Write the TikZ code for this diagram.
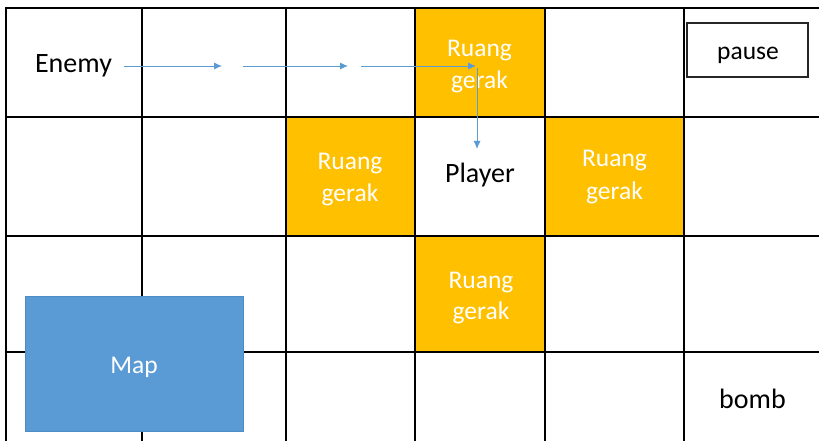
\documentclass[tikz,border=0pt]{standalone}
\usepackage{fontspec}
\setmainfont{Carlito}
\usetikzlibrary{arrows.meta}
\definecolor{gold}{HTML}{FFC000}
\definecolor{steel}{HTML}{5B9BD5}
\definecolor{steeledge}{HTML}{4F8CC6}
\begin{document}
\begin{tikzpicture}[x=1pt,y=-1pt,
  gridline/.style={line width=1.6pt,black},
  movecell/.style={fill=gold},
  bigtext/.style={font=\fontsize{28}{32}\selectfont,anchor=base,inner sep=0pt},
  smalltext/.style={font=\fontsize{25.5}{32}\selectfont,anchor=base,inner sep=0pt},
  movetext/.style={smalltext,text=white},
  path/.style={line width=0.9pt,steel,-{Latex[length=8pt,width=7pt]}}]
\useasboundingbox (0,0) rectangle (819,441);
\fill[white] (0,0) rectangle (819,441);

% cells the player may move into
\fill[movecell] (415,8) rectangle (545,117);
\fill[movecell] (286,117) rectangle (415,236);
\fill[movecell] (545,117) rectangle (684,236);
\fill[movecell] (415,236) rectangle (545,352);

% board grid
\draw[gridline] (6,441) -- (6,8) -- (819,8);
\draw[gridline] (6,117) -- (819,117);
\draw[gridline] (6,236) -- (819,236);
\draw[gridline] (6,352) -- (819,352);
\foreach \gx in {142,286,415,545,684}
  \draw[gridline] (\gx,8) -- (\gx,441);

% labels of the move cells
\node[movetext] (m1a) at (479.5,57) {Ruang};
\node[movetext] (m1b) at (479.5,89) {gerak};
\node[movetext] (m2a) at (350,169) {Ruang};
\node[movetext] (m2b) at (350,201) {gerak};
\node[movetext] (m3a) at (614.5,167) {Ruang};
\node[movetext] (m3b) at (614.5,199) {gerak};
\node[movetext] (m4a) at (481,288) {Ruang};
\node[movetext] (m4b) at (481,319) {gerak};

% player, enemy and controls
\node[bigtext] (player) at (480,182) {Player};
\node[bigtext] (enemy) at (73.5,73) {Enemy};
\node[bigtext] (bomb) at (752.5,408) {bomb};
\node[draw=black!85,line width=1.2pt,minimum width=121pt,minimum height=54pt,inner sep=0pt] (pausebox) at (747.5,50) {};
\node[smalltext] (pause) at (748,60) {pause};
\node[fill=steel,draw=steeledge,line width=0.8pt,minimum width=218pt,minimum height=135pt,inner sep=0pt] (map) at (134,363.5) {};
\node[smalltext,text=white] (maplabel) at (134,373) {Map};

% enemy path towards the player
\coordinate (s1) at (124,66);
\coordinate (e1) at (222,66);
\coordinate (s2) at (243,66);
\coordinate (e2) at (348,66);
\coordinate (s3) at (361,66);
\coordinate (e3) at (476,66);
\coordinate (s4) at (477,68);
\coordinate (e4) at (477,149);
\draw[path] (s1) -- (e1);
\draw[path] (s2) -- (e2);
\draw[path] (s3) -- (e3);
\draw[path] (s4) -- (e4);
\end{tikzpicture}
\end{document}
